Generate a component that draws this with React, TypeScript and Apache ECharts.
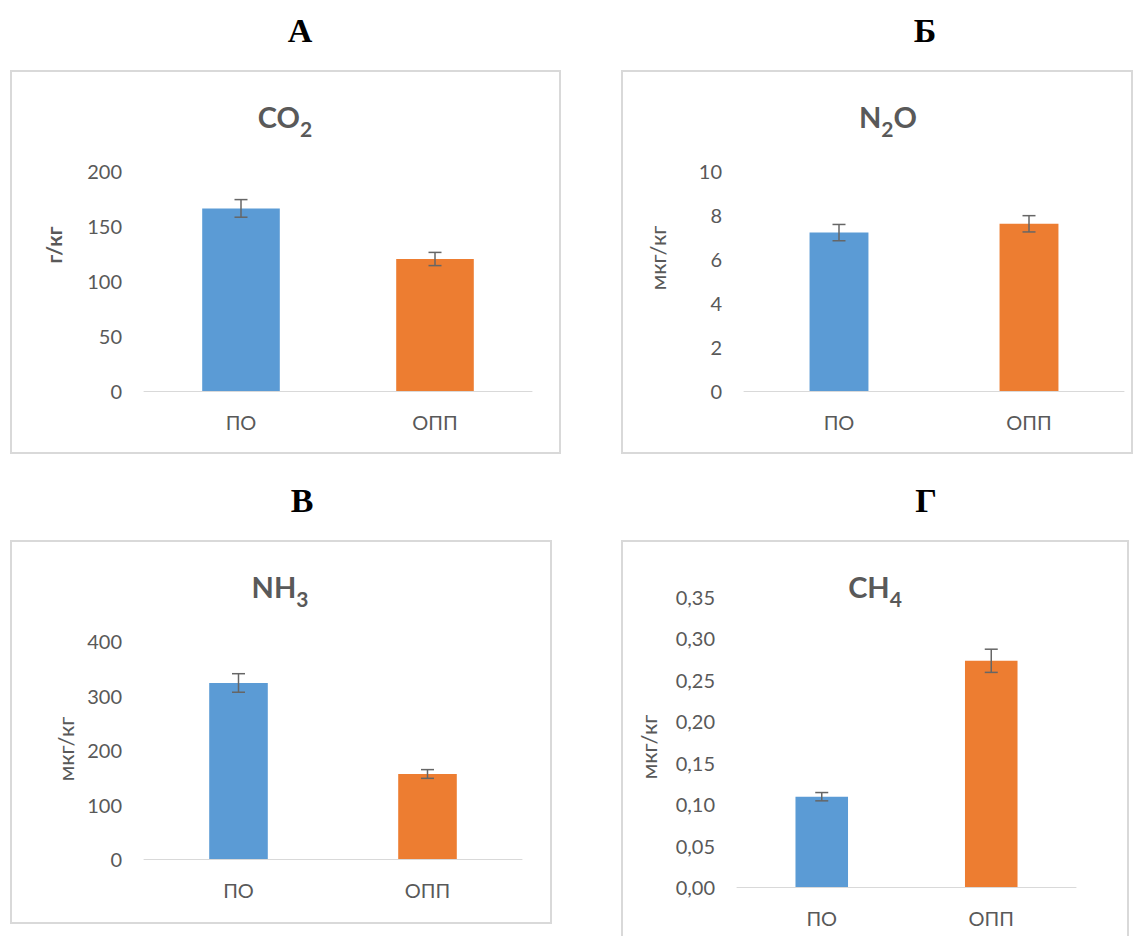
import React, { useEffect, useRef } from "react";
import * as echarts from "echarts";

const categories = ["ПО", "ОПП"];
const panelLetters = ["А", "Б", "В", "Г"];
const unitNames = ["г/кг", "мкг/кг", "мкг/кг", "мкг/кг"];

const co2Values = [166, 120];
const co2Errors = [8, 6];
const n2oValues = [7.2, 7.6];
const n2oErrors = [0.37, 0.37];
const nh3Values = [323, 156];
const nh3Errors = [17, 8];
const ch4Values = [0.109, 0.273];
const ch4Errors = [0.005, 0.014];

const axisMax = [200, 10, 400, 0.35];
const axisInterval = [50, 2, 100, 0.05];

const barColors = ["#5B9BD5", "#ED7D31"];
const textGray = "#595959";
const sans = "Lato, 'Open Sans', sans-serif";

// title parts: [text, isSubscript]
const titleParts: [string, boolean][][] = [
  [["CO", false], ["2", true]],
  [["N", false], ["2", true], ["O", false]],
  [["NH", false], ["3", true]],
  [["CH", false], ["4", true]],
];

const panels = [
  {
    values: co2Values, errors: co2Errors,
    grid: { left: 144, top: 171, width: 388, height: 220 },
    box: { x: 11, y: 71, width: 549, height: 382 },
    titlePos: [285, 116], letterPos: [300, 30], unitPos: [53, 245], unitBold: true, unitSize: 21,
    barWidth: "40%",
  },
  {
    values: n2oValues, errors: n2oErrors,
    grid: { left: 744, top: 171, width: 380, height: 220 },
    box: { x: 622, y: 71, width: 510, height: 382 },
    titlePos: [888, 116], letterPos: [925, 30], unitPos: [657, 258], unitBold: false, unitSize: 22,
    barWidth: "31%",
  },
  {
    values: nh3Values, errors: nh3Errors,
    grid: { left: 144, top: 641, width: 378, height: 218 },
    box: { x: 11, y: 541, width: 540, height: 382 },
    titlePos: [280, 586], letterPos: [302, 500], unitPos: [65, 749], unitBold: false, unitSize: 22,
    barWidth: "31%",
  },
  {
    values: ch4Values, errors: ch4Errors,
    grid: { left: 737, top: 597, width: 339, height: 290 },
    box: { x: 622, y: 541, width: 506, height: 420 },
    titlePos: [875, 586], letterPos: [926, 500], unitPos: [648, 747], unitBold: false, unitSize: 22,
    barWidth: "31%",
  },
];

const MAIN_FONT = `bold 29px ${sans}`;
const SUB_FONT = `bold 21px ${sans}`;

export default function App() {
  const ref = useRef<HTMLDivElement>(null);
  useEffect(() => {
    if (!ref.current) return;
    const chart = echarts.init(ref.current, null, { renderer: "svg" });
    const ctx = document.createElement("canvas").getContext("2d") as CanvasRenderingContext2D;
    const measure = (t: string, font: string) => {
      ctx.font = font;
      return ctx.measureText(t).width;
    };

    const grids: any[] = [];
    const xAxes: any[] = [];
    const yAxes: any[] = [];
    const series: any[] = [];
    const graphics: any[] = [];

    panels.forEach((p, i) => {
      grids.push({ ...p.grid, containLabel: false });
      xAxes.push({
        type: "category",
        gridIndex: i,
        data: categories,
        axisLine: { show: true, lineStyle: { color: "#d9d9d9", width: 1 } },
        axisTick: { show: false },
        axisLabel: { color: textGray, fontSize: 20, fontFamily: sans, margin: 21 },
      });
      yAxes.push({
        type: "value",
        gridIndex: i,
        min: 0,
        max: axisMax[i],
        interval: axisInterval[i],
        axisLine: { show: false },
        axisTick: { show: false },
        splitLine: { show: false },
        axisLabel: {
          color: textGray,
          fontSize: 20,
          fontFamily: sans,
          margin: 22,
          formatter: i === 3 ? (v: number) => v.toFixed(2).replace(".", ",") : undefined,
        },
      });
      series.push({
        type: "bar",
        xAxisIndex: i,
        yAxisIndex: i,
        barWidth: p.barWidth,
        data: p.values.map((v, k) => ({ value: v, itemStyle: { color: barColors[k] } })),
      });
      series.push({
        type: "custom",
        xAxisIndex: i,
        yAxisIndex: i,
        z: 5,
        encode: { x: 0, y: [1, 2] },
        data: p.values.map((v, k) => [k, v - p.errors[k], v + p.errors[k]]),
        renderItem: (params: any, api: any) => {
          const c = api.value(0);
          const hi = api.coord([c, api.value(2)]);
          const lo = api.coord([c, api.value(1)]);
          const hw = 6.5;
          const st = { stroke: "#666666", lineWidth: 1.5 };
          return {
            type: "group",
            children: [
              { type: "line", shape: { x1: hi[0], y1: hi[1], x2: lo[0], y2: lo[1] }, style: st },
              { type: "line", shape: { x1: hi[0] - hw, y1: hi[1], x2: hi[0] + hw, y2: hi[1] }, style: st },
              { type: "line", shape: { x1: lo[0] - hw, y1: lo[1], x2: lo[0] + hw, y2: lo[1] }, style: st },
            ],
          };
        },
      });

      graphics.push({
        type: "rect",
        shape: { ...p.box },
        style: { fill: "none", stroke: "#d9d9d9", lineWidth: 2 },
        z: 0,
      });
      graphics.push({
        type: "text",
        x: p.letterPos[0],
        y: p.letterPos[1],
        style: {
          text: panelLetters[i],
          font: "bold 34px 'Liberation Serif', 'Times New Roman', serif",
          fill: "#000",
          align: "center",
          verticalAlign: "middle",
        },
      });

      const parts = titleParts[i];
      const widths = parts.map(([t, sub]) => measure(t, sub ? SUB_FONT : MAIN_FONT));
      const total = widths.reduce((a, b) => a + b, 0);
      let cx = p.titlePos[0] - total / 2;
      parts.forEach(([t, sub], k) => {
        graphics.push({
          type: "text",
          x: cx,
          y: p.titlePos[1] + (sub ? 12 : 0),
          style: {
            text: t,
            font: sub ? SUB_FONT : MAIN_FONT,
            fill: textGray,
            align: "left",
            verticalAlign: "middle",
          },
        });
        cx += widths[k];
      });

      graphics.push({
        type: "text",
        x: p.unitPos[0],
        y: p.unitPos[1],
        rotation: Math.PI / 2,
        style: {
          text: unitNames[i],
          font: `${p.unitBold ? "bold " : ""}${p.unitSize}px ${sans}`,
          fill: textGray,
          align: "center",
          verticalAlign: "middle",
        },
      });
    });

    chart.setOption({
      animation: false,
      backgroundColor: "#ffffff",
      grid: grids,
      xAxis: xAxes,
      yAxis: yAxes,
      series,
      graphic: graphics,
    });
    return () => chart.dispose();
  }, []);

  return (
    <div
      ref={ref}
      style={{ position: "absolute", left: 0, top: 0, width: 1138, height: 936 }}
    />
  );
}
